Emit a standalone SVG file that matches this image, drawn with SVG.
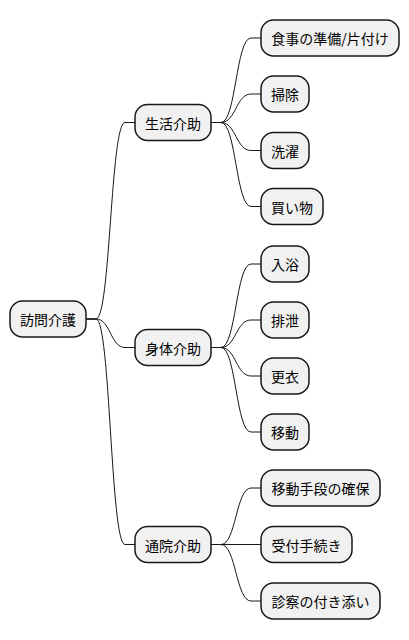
<svg xmlns="http://www.w3.org/2000/svg" width="409" height="640" viewBox="0 0 409 640">
<style>
.n rect{fill:#F1F1F1;stroke:#181818;stroke-width:1.5}
.n text{font-family:"Noto Sans CJK JP","Noto Sans",sans-serif;font-size:14px;fill:#000;text-anchor:middle;dominant-baseline:central}
#edges path{fill:none;stroke:#181818;stroke-width:1}
</style>
<rect width="409" height="640" fill="#FFFFFF"/>
<g id="edges">
<path d="M86,319 L96,319 C110.5,319 110.5,122.5 125,122.5 L135,122.5"/>
<path d="M86,319 L96,319 C110.5,319 110.5,347.5 125,347.5 L135,347.5"/>
<path d="M86,319 L96,319 C110.5,319 110.5,544.5 125,544.5 L135,544.5"/>
<path d="M211,122.5 L221,122.5 C236,122.5 236,38 251,38 L261,38"/>
<path d="M211,122.5 L221,122.5 C236,122.5 236,94 251,94 L261,94"/>
<path d="M211,122.5 L221,122.5 C236,122.5 236,150.5 251,150.5 L261,150.5"/>
<path d="M211,122.5 L221,122.5 C236,122.5 236,206.5 251,206.5 L261,206.5"/>
<path d="M211,347.5 L221,347.5 C236,347.5 236,264 251,264 L261,264"/>
<path d="M211,347.5 L221,347.5 C236,347.5 236,320 251,320 L261,320"/>
<path d="M211,347.5 L221,347.5 C236,347.5 236,376 251,376 L261,376"/>
<path d="M211,347.5 L221,347.5 C236,347.5 236,432 251,432 L261,432"/>
<path d="M211,544.5 L221,544.5 C236,544.5 236,488 251,488 L261,488"/>
<path d="M211,544.5 L261,544.5"/>
<path d="M211,544.5 L221,544.5 C236,544.5 236,601 251,601 L261,601"/>
</g>
<g id="root" class="n"><rect x="10" y="301" width="76" height="36" rx="12.5"/><text x="48" y="319">訪問介護</text></g>
<g id="seikatsu" class="n"><rect x="135" y="104.5" width="76" height="36" rx="12.5"/><text x="173" y="122.5">生活介助</text></g>
<g id="shintai" class="n"><rect x="135" y="329.5" width="76" height="36" rx="12.5"/><text x="173" y="347.5">身体介助</text></g>
<g id="tsuuin" class="n"><rect x="135" y="526.5" width="76" height="36" rx="12.5"/><text x="173" y="544.5">通院介助</text></g>
<g id="shokuji" class="n"><rect x="261" y="20" width="138" height="36" rx="12.5"/><text x="330" y="38">食事の準備/片付け</text></g>
<g id="souji" class="n"><rect x="261" y="76" width="48" height="36" rx="12.5"/><text x="285" y="94">掃除</text></g>
<g id="sentaku" class="n"><rect x="261" y="132.5" width="48" height="36" rx="12.5"/><text x="285" y="150.5">洗濯</text></g>
<g id="kaimono" class="n"><rect x="261" y="188.5" width="62" height="36" rx="12.5"/><text x="292" y="206.5">買い物</text></g>
<g id="nyuyoku" class="n"><rect x="261" y="246" width="48" height="36" rx="12.5"/><text x="285" y="264">入浴</text></g>
<g id="haisetsu" class="n"><rect x="261" y="302" width="48" height="36" rx="12.5"/><text x="285" y="320">排泄</text></g>
<g id="koui" class="n"><rect x="261" y="358" width="48" height="36" rx="12.5"/><text x="285" y="376">更衣</text></g>
<g id="idou" class="n"><rect x="261" y="414" width="48" height="36" rx="12.5"/><text x="285" y="432">移動</text></g>
<g id="shudan" class="n"><rect x="261" y="470" width="119" height="36" rx="12.5"/><text x="320.5" y="488">移動手段の確保</text></g>
<g id="uketsuke" class="n"><rect x="261" y="526.5" width="91" height="36" rx="12.5"/><text x="306.5" y="544.5">受付手続き</text></g>
<g id="shinsatsu" class="n"><rect x="261" y="583" width="119" height="36" rx="12.5"/><text x="320.5" y="601">診察の付き添い</text></g>
</svg>
